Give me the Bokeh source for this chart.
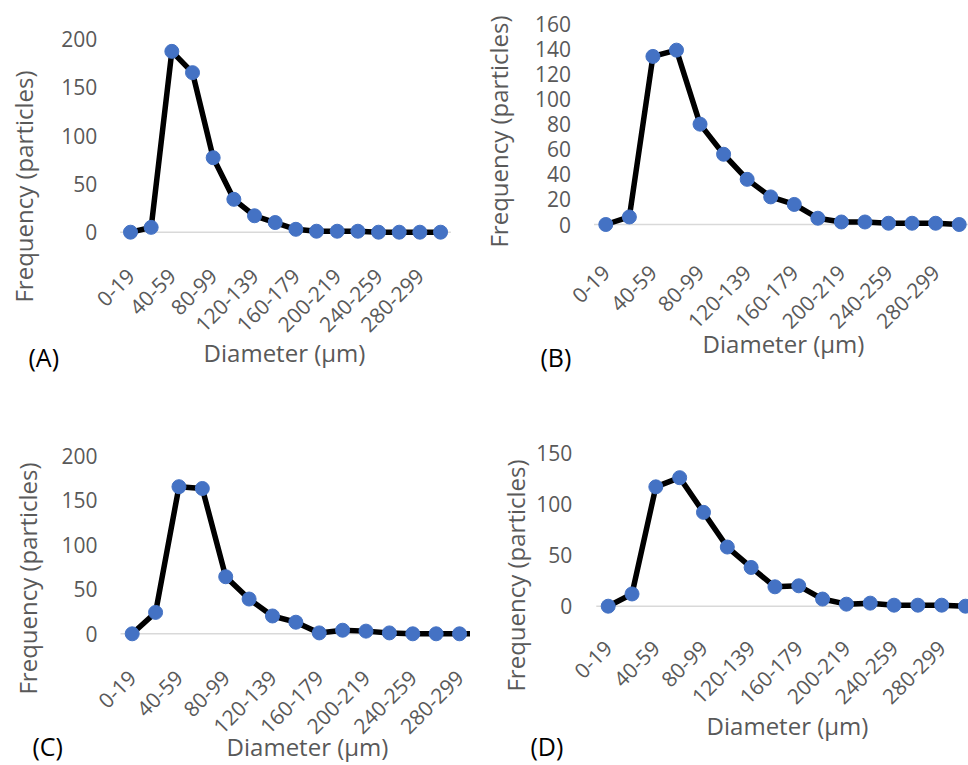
import math
from bokeh.plotting import figure
from bokeh.models import Range1d, FixedTicker, Label, Spacer
from bokeh.layouts import column, row
from bokeh.embed import file_html
from bokeh.resources import INLINE

# ---------------- data ----------------
categories = ["0-19", "20-39", "40-59", "60-79", "80-99", "100-119", "120-139",
              "140-159", "160-179", "180-199", "200-219", "220-239", "240-259",
              "260-279", "280-299", "300-319"]
freq_a = [0, 5, 187, 165, 77, 34, 17, 10, 3, 1, 1, 1, 0, 0, 0, 0]
freq_b = [0, 6, 134, 139, 80, 56, 36, 22, 16, 5, 2, 2, 1, 1, 1, 0]
freq_c = [0, 24, 165, 163, 64, 39, 20, 13, 1, 4, 3, 1, 0, 0, 0, 0]
freq_d = [0, 12, 117, 126, 92, 58, 38, 19, 20, 7, 2, 3, 1, 1, 1, 0]
y_max = [200, 160, 200, 150]
y_step = [50, 20, 50, 50]
panel_tags = ["(A)", "(B)", "(C)", "(D)"]
x_title = "Diameter (µm)"
y_title = "Frequency (particles)"

FONT = "Open Sans"
GRAY = "#595959"
BLUE = "#4472C4"


def make_panel(values, tag, ymax, ystep, g):
    W, H = g["W"], g["H"]

    def dx(px):
        return (px - g["x_first"]) / g["x_step"]

    def dy(py):
        return (g["y_zero"] - py) / g["y_scale"]

    p = figure(width=W, height=H, output_backend="svg", toolbar_location=None,
               x_range=Range1d(dx(0), dx(W)), y_range=Range1d(dy(H), dy(0)),
               min_border_left=0, min_border_right=0,
               min_border_top=0, min_border_bottom=0,
               outline_line_color=None, background_fill_color="white",
               border_fill_color="white")
    p.title.visible = False
    p.xgrid.visible = False
    p.ygrid.visible = False

    n = len(categories)
    idx = list(range(n))
    # horizontal axis line at zero across the plot area
    p.segment(x0=[-0.5], y0=[0], x1=[n - 0.5], y1=[0],
              line_color="#d9d9d9", line_width=1.5)
    p.line(idx, values, line_color="black", line_width=5.5, line_join="round")
    p.scatter(idx, values, size=14, fill_color=BLUE, line_color=BLUE)

    # x axis: every other category label, fixed at y = 0
    xa = p.xaxis[0]
    xa.fixed_location = 0
    xa.ticker = FixedTicker(ticks=idx[::2])
    xa.major_label_overrides = {i: categories[i] for i in idx[::2]}
    xa.major_label_orientation = math.pi / 4
    xa.axis_line_color = None
    xa.major_tick_line_color = None
    xa.minor_tick_line_color = None
    xa.major_tick_out = 0
    xa.major_tick_in = 0
    xa.major_label_standoff = g["xstand"]
    xa.major_label_text_font = FONT
    xa.major_label_text_font_size = "21px"
    xa.major_label_text_color = GRAY

    ya = p.yaxis[0]
    ya.fixed_location = -0.5
    ya.ticker = FixedTicker(ticks=list(range(0, ymax + 1, ystep)))
    ya.axis_line_color = None
    ya.major_tick_line_color = None
    ya.minor_tick_line_color = None
    ya.major_tick_out = 0
    ya.major_tick_in = 0
    ya.major_label_standoff = g["ystand"]
    ya.major_label_text_font = FONT
    ya.major_label_text_font_size = "21px"
    ya.major_label_text_color = GRAY

    yt = g["ytitle"]
    p.add_layout(Label(x=dx(yt[0]), y=dy(yt[1]), text=y_title, angle=math.pi / 2,
                       text_align="center", text_baseline="middle",
                       text_font=FONT, text_font_size="24px", text_color=GRAY))
    xt = g["xtitle"]
    p.add_layout(Label(x=dx(xt[0]), y=dy(xt[1]), text=x_title,
                       text_align="center", text_baseline="middle",
                       text_font=FONT, text_font_size="24px", text_color=GRAY))
    tg = g["tag"]
    p.add_layout(Label(x=dx(tg[0]), y=dy(tg[1]), text=tag,
                       text_align="left", text_baseline="middle",
                       text_font=FONT, text_font_size="25px", text_color="black"))
    return p


# panel geometry in pixels (figure-local): first category centre, category
# spacing, pixel row of value 0 and pixels per unit
geoms = [
    dict(W=480, H=376, x_first=130.0, x_step=20.67, y_zero=231.7, y_scale=0.967,
         xstand=40, ystand=23, ytitle=(23, 186), xtitle=(284, 352), tag=(28, 356)),
    dict(W=488, H=376, x_first=125.3, x_step=23.56, y_zero=224.0, y_scale=1.2544,
         xstand=44, ystand=23, ytitle=(18, 131), xtitle=(303, 343), tag=(60, 356)),
    dict(W=470, H=389, x_first=131.7, x_step=23.38, y_zero=257.3, y_scale=0.8915,
         xstand=40, ystand=23, ytitle=(27, 202), xtitle=(307, 370), tag=(32, 369)),
    dict(W=488, H=389, x_first=127.7, x_step=23.82, y_zero=229.7, y_scale=1.02,
         xstand=38, ystand=24, ytitle=(35, 199), xtitle=(307, 349), tag=(50, 369)),
]
series = [freq_a, freq_b, freq_c, freq_d]

panels = [make_panel(series[i], panel_tags[i], y_max[i], y_step[i], geoms[i])
          for i in range(4)]

layout = column(
    row(panels[0], panels[1], spacing=0),
    row(panels[2], Spacer(width=10, height=389), panels[3], spacing=0),
    spacing=0)

open("out.html", "w").write(file_html(layout, INLINE))
